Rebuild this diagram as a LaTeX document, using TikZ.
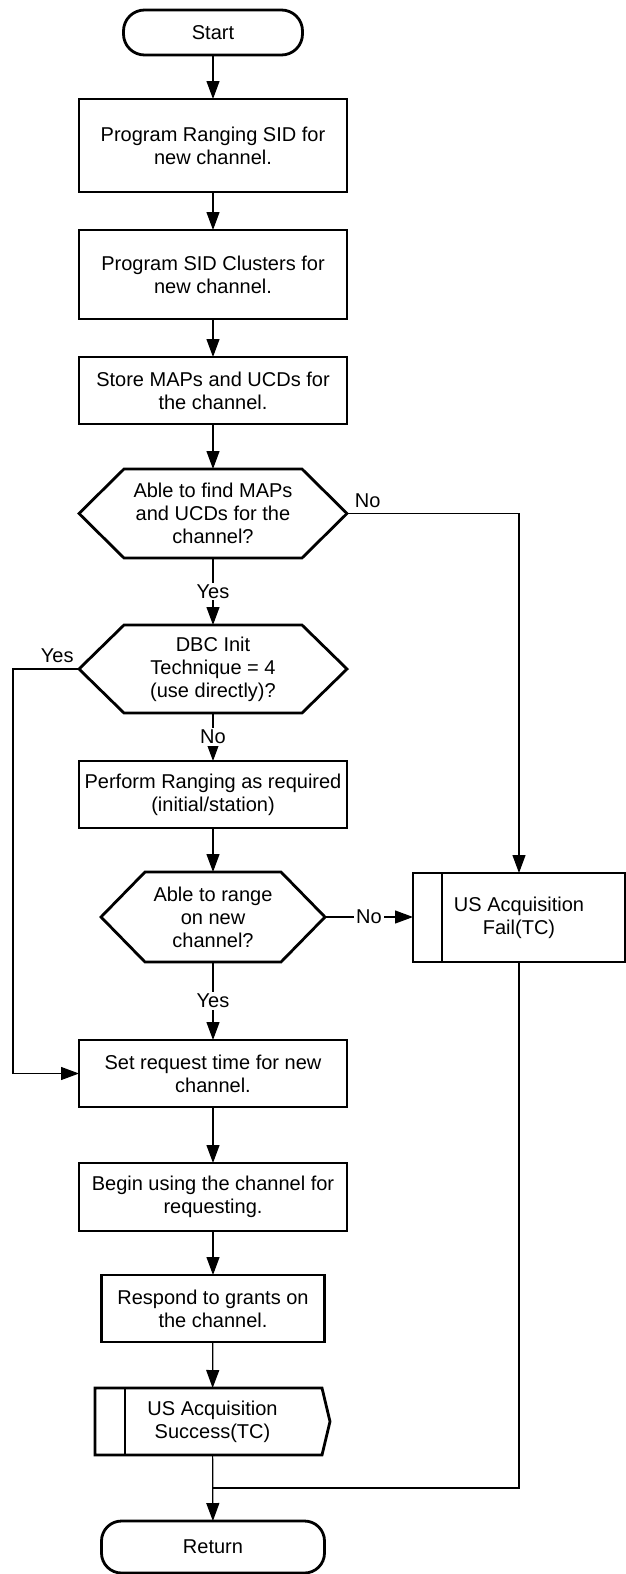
\documentclass[tikz,border=0pt]{standalone}
\usepackage{fontspec}
\setmainfont{Liberation Sans}
\usetikzlibrary{arrows.meta}

\tikzset{
  every node/.style={font=\fontsize{20}{23}\selectfont, align=center, outer sep=0pt, inner sep=0pt},
  procbox/.style={draw, line width=2.8pt, minimum width=268pt, minimum height=67pt},
  termbox/.style={draw, line width=2.8pt, rounded corners=20pt, minimum width=223pt, minimum height=52pt},
  decbox/.style={minimum width=268pt, minimum height=89pt},
  shapeline/.style={line width=2.8pt, line join=miter},
  flow/.style={line width=1.2pt, -{Triangle[length=18pt,width=13pt]}},
  link/.style={line width=1.2pt},
  lbl/.style={fill=white, inner sep=2pt},
}

\begin{document}
\begin{tikzpicture}[x=1pt, y=-1pt]
    \useasboundingbox (0,0) rectangle (626,1574);

    % Main column
    \node[termbox, minimum width=179pt, minimum height=45pt, rounded corners=21pt] (start) at (213,32.5) {Start};
    \node[procbox, minimum height=93pt] (b1) at (213,145.5) {Program Ranging SID for\\new channel.};
    \node[procbox, minimum height=89pt] (b2) at (213,274.5) {Program SID Clusters for\\new channel.};
    \node[procbox] (b3) at (213,390.5) {Store MAPs and UCDs for\\the channel.};
    \node[decbox] (h1) at (213,513.5) {Able to find MAPs\\and UCDs for the\\channel?};
    \node[decbox, minimum height=88pt] (h2) at (213,669) {DBC Init\\Technique = 4\\(use directly)?};
    \node[procbox] (perf) at (213,794.5) {Perform Ranging as required\\(initial/station)};
    \node[decbox, minimum width=224pt, minimum height=90pt] (h3) at (213,917) {Able to range\\on new\\channel?};
    \node[procbox] (set) at (213,1073.5) {Set request time for new\\channel.};
    \node[procbox, minimum height=68pt] (begin) at (213,1197) {Begin using the channel for\\requesting.};
    \node[procbox, minimum width=223pt] (resp) at (213,1308.5) {Respond to grants on\\the channel.};
    \node[minimum width=235pt, minimum height=67pt] (succ) at (212.5,1421.5) {US Acquisition\\Success(TC)};
    \node[termbox] (ret) at (213,1547) {Return};

    % Failure branch
    \node[procbox, minimum width=212pt, minimum height=89pt] (fail) at (519,917.5) {US Acquisition\\Fail(TC)};
    \coordinate (join) at (213,1488);

    % Decision outlines
    \foreach \n/\c in {h1/45, h2/45, h3/44} {
        \draw[shapeline] (\n.west) -- ([xshift=\c pt]\n.north west) -- ([xshift=-\c pt]\n.north east)
            -- (\n.east) -- ([xshift=-\c pt]\n.south east) -- ([xshift=\c pt]\n.south west) -- cycle;
    }

    % Predefined process outlines
    \draw[shapeline] (succ.north west) -- ([xshift=-8pt]succ.north east) -- (succ.east)
        -- ([xshift=-8pt]succ.south east) -- (succ.south west) -- cycle;
    \draw[shapeline] ([xshift=30pt]succ.north west) -- ([xshift=30pt]succ.south west);
    \draw[shapeline] ([xshift=29pt]fail.north west) -- ([xshift=29pt]fail.south west);

    % Connectors
    \draw[flow] (start) -- (b1);
    \draw[flow] (b1) -- (b2);
    \draw[flow] (b2) -- (b3);
    \draw[flow] (b3) -- (h1);
    \draw[flow] (h1) -- node[lbl] {Yes} (h2);
    \draw[flow] (h2) -- node[lbl] {No} (perf);
    \draw[flow] (perf) -- (h3);
    \draw[flow] (h3) -- node[lbl] {Yes} (set);
    \draw[flow] (h3.east) -- node[lbl] {No} (h3.east -| fail.west);
    \draw[flow] (set) -- (begin);
    \draw[flow] (begin) -- (resp);
    \draw[flow] (resp) -- (succ);
    \draw[flow] (succ) -- (ret);
    \draw[flow] (h1.east) -| node[pos=0.06, above=6pt] {No} (fail.north);
    \draw[flow] (h2.west) -- node[pos=0.33, above=6pt] {Yes} ++(-66,0) |- (set.west);
    \draw[link] (fail.south) |- (join);
\end{tikzpicture}
\end{document}
